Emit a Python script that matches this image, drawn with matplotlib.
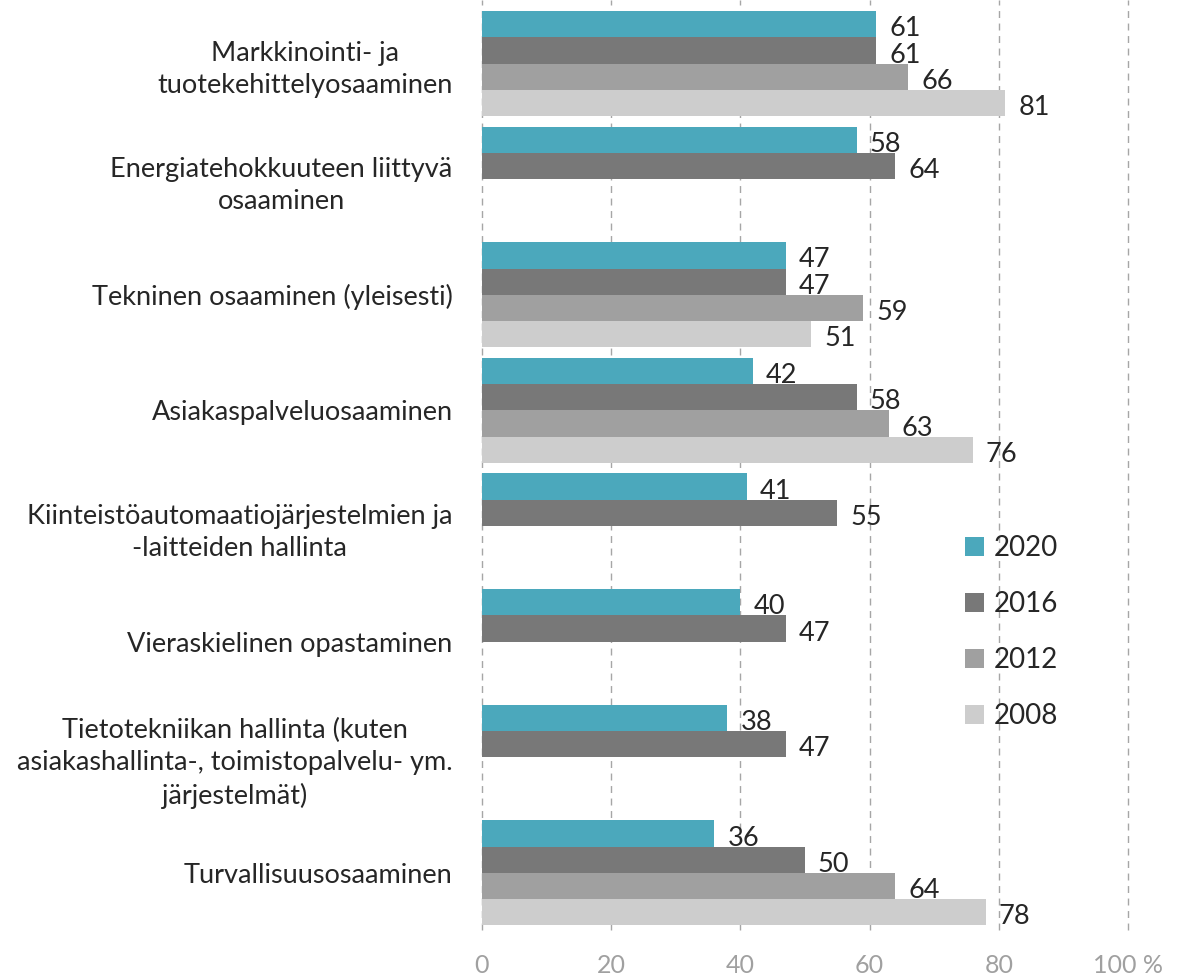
import matplotlib.pyplot as plt
import numpy as np

plt.rcParams['font.family'] = ['Lato', 'DejaVu Sans']

# data
categories = [
    'Markkinointi- ja\ntuotekehittelyosaaminen',
    'Energiatehokkuuteen liittyvä\nosaaminen',
    'Tekninen osaaminen (yleisesti)',
    'Asiakaspalveluosaaminen',
    'Kiinteistöautomaatiojärjestelmien ja\n-laitteiden hallinta',
    'Vieraskielinen opastaminen',
    'Tietotekniikan hallinta (kuten\nasiakashallinta-, toimistopalvelu- ym.\njärjestelmät)',
    'Turvallisuusosaaminen',
]
years = ['2020', '2016', '2012', '2008']
v2020 = [61, 58, 47, 42, 41, 40, 38, 36]
v2016 = [61, 64, 47, 58, 55, 47, 47, 50]
v2012 = [66, None, 59, 63, None, None, None, 64]
v2008 = [81, None, 51, 76, None, None, None, 78]
series = [v2020, v2016, v2012, v2008]
colors = ['#4BA8BC', '#787878', '#A0A0A0', '#CDCDCD']
xticks = [0, 20, 40, 60, 80, 100]
xticklabels = ['0', '20', '40', '60', '80', '100 %']

fig = plt.figure(figsize=(11.78, 9.77), dpi=100)
ax = fig.add_axes([0.409, 0.048, 0.5487, 0.952])

h = 0.2275
idx = np.arange(len(categories))
for j, (vals, col, yr) in enumerate(zip(series, colors, years)):
    for i, v in enumerate(vals):
        if v is None:
            continue
        y = i + (j - 1.5) * h
        ax.barh(y, v, height=h, color=col, zorder=3,
                label=yr if i == 0 else None)
        ax.text(v + 2.0, y + 0.04, str(v), va='center', ha='left',
                fontsize=19.5, color='#262626', zorder=4)

ax.set_ylim(7.495, -0.55)
ax.set_xlim(0, 100)
ax.set_yticks(idx)
ax.set_yticklabels(categories, fontsize=19.5, color='#262626',
                   multialignment='center', linespacing=1.35)
ax.set_xticks(xticks)
ax.set_xticklabels(xticklabels, fontsize=18, color='#A0A0A0')
ax.tick_params(axis='y', length=0, pad=21)
ax.tick_params(axis='x', length=0, pad=17)
for t in xticks:
    ax.axvline(t, linestyle=(0, (5, 4)), color='#A6A6A6', linewidth=1,
               zorder=0, clip_on=False)
for s in ax.spines.values():
    s.set_visible(False)

ax.legend(loc='center left', bbox_to_anchor=(940 / 1178, 1 - 632 / 977),
          bbox_transform=fig.transFigure, frameon=False, fontsize=20,
          handlelength=0.7, handleheight=0.7, handletextpad=0.35,
          labelspacing=1.08, labelcolor='#262626')

fig.savefig('out.png', dpi=100)
